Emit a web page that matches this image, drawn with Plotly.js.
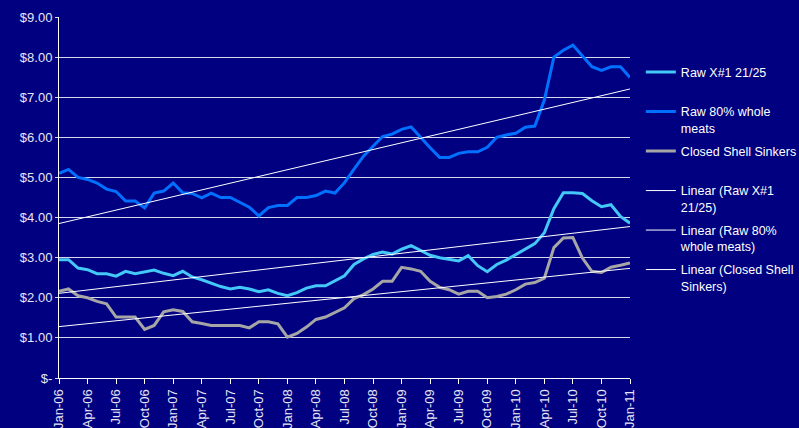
<!DOCTYPE html>
<html>
<head>
<meta charset="utf-8">
<script src="https://cdn.plot.ly/plotly-3.0.1.min.js"></script>
<style>
  html, body { margin: 0; padding: 0; background: #000080; }
  #chart { width: 799px; height: 428px; }
</style>
</head>
<body>
<div id="chart"></div>
<script>
const monthNames = ['Jan', 'Feb', 'Mar', 'Apr', 'May', 'Jun', 'Jul', 'Aug', 'Sep', 'Oct', 'Nov', 'Dec'];

// Jan-06 .. Jan-11, one point a month
const months = [];
for (let yr = 6; yr <= 11; yr++) {
    monthNames.forEach((m) => {
        if (yr < 11 || m === 'Jan') months.push(m + '-' + String(yr).padStart(2, '0'));
    });
}

const rawX1 = [
    2.95, 2.95, 2.74, 2.70, 2.60, 2.60, 2.54, 2.66, 2.60, 2.65, 2.69, 2.61,
    2.55, 2.66, 2.52, 2.45, 2.37, 2.28, 2.22, 2.26, 2.22, 2.15, 2.20, 2.11,
    2.05, 2.13, 2.24, 2.30, 2.30, 2.43, 2.55, 2.83, 2.97, 3.08, 3.14, 3.09,
    3.21, 3.30, 3.19, 3.06, 3.00, 2.96, 2.92, 3.05, 2.80, 2.65, 2.83, 2.94,
    3.08, 3.23, 3.35, 3.62, 4.22, 4.62, 4.62, 4.60, 4.42, 4.27, 4.32, 4.03,
    3.86
];

const raw80 = [
    5.10, 5.20, 5.00, 4.95, 4.86, 4.71, 4.65, 4.41, 4.41, 4.24, 4.61, 4.66,
    4.86, 4.62, 4.60, 4.49, 4.61, 4.50, 4.50, 4.39, 4.26, 4.04, 4.25, 4.30,
    4.30, 4.50, 4.50, 4.55, 4.66, 4.61, 4.87, 5.21, 5.53, 5.78, 6.02, 6.08,
    6.20, 6.26, 5.99, 5.74, 5.50, 5.50, 5.60, 5.64, 5.64, 5.75, 6.00, 6.06,
    6.10, 6.25, 6.28, 6.93, 8.00, 8.17, 8.30, 8.02, 7.76, 7.67, 7.76, 7.76,
    7.49
];

const closedShell = [
    2.16, 2.22, 2.05, 2.00, 1.91, 1.85, 1.52, 1.52, 1.52, 1.21, 1.31, 1.65,
    1.70, 1.66, 1.40, 1.36, 1.31, 1.31, 1.31, 1.31, 1.25, 1.40, 1.40, 1.35,
    1.02, 1.11, 1.27, 1.46, 1.52, 1.64, 1.75, 1.98, 2.08, 2.22, 2.41, 2.41,
    2.76, 2.72, 2.66, 2.41, 2.26, 2.20, 2.09, 2.16, 2.16, 2.00, 2.03, 2.09,
    2.20, 2.34, 2.38, 2.49, 3.25, 3.49, 3.50, 2.99, 2.66, 2.63, 2.76, 2.81,
    2.87
];

const yTickVals = [0, 1, 2, 3, 4, 5, 6, 7, 8, 9];
const yTickText = ['$-', '$1.00', '$2.00', '$3.00', '$4.00', '$5.00', '$6.00', '$7.00', '$8.00', '$9.00'];

// least squares line over the month index, like the Excel "Linear" trendline
const linearFit = (ys) => {
    const n = ys.length;
    let sx = 0, sy = 0, sxx = 0, sxy = 0;
    ys.forEach((y, i) => { sx += i; sy += y; sxx += i * i; sxy += i * y; });
    const b = (n * sxy - sx * sy) / (n * sxx - sx * sx);
    const a = (sy - b * sx) / n;
    return ys.map((_, i) => a + b * i);
};

const series = (name, y, color, width, group) => ({
    x: months,
    y,
    name,
    type: 'scatter',
    mode: 'lines',
    line: { color, width },
    legendgroup: group,
    hoverinfo: 'skip',
});

// blank second line keeps every legend entry the same height
const pad = '<br>\u00a0';

const data = [
    series('Raw X#1 21/25' + pad, rawX1, '#44C8F8', 3, 'a'),
    series('Raw 80% whole<br>meats', raw80, '#0070FF', 3, 'b'),
    series('Closed Shell Sinkers' + pad, closedShell, '#A6A6A6', 3, 'c'),
    series('Linear (Raw X#1<br>21/25)', linearFit(rawX1), '#FFFFFF', 1, 'd'),
    series('Linear (Raw 80%<br>whole meats)', linearFit(raw80), '#FFFFFF', 1, 'e'),
    series('Linear (Closed Shell<br>Sinkers)', linearFit(closedShell), '#FFFFFF', 1, 'f'),
];

const layout = {
    width: 799,
    height: 428,
    paper_bgcolor: '#000080',
    plot_bgcolor: '#000080',
    font: { family: 'Liberation Sans, Arial, sans-serif', color: '#E6E6F5' },
    margin: { l: 59, r: 169, t: 17, b: 50, pad: 0, autoexpand: false },
    showlegend: true,
    hovermode: false,
    legend: {
        x: 1.019,
        y: 0.888,
        xanchor: 'left',
        yanchor: 'top',
        bgcolor: 'rgba(0,0,0,0)',
        font: { size: 12.5, color: '#FFFFFF' },
        traceorder: 'grouped',
        tracegroupgap: 4,
        valign: 'top',
    },
    xaxis: {
        type: 'category',
        range: [0, months.length - 1],
        tickvals: months.filter((_, i) => i % 3 === 0),
        tickangle: -90,
        tickfont: { size: 13, color: '#E6E6F5' },
        ticks: 'outside',
        ticklen: 5,
        tickcolor: '#FFFFFF',
        showgrid: false,
        showline: true,
        linecolor: '#FFFFFF',
        linewidth: 1,
        zeroline: false,
        fixedrange: true,
    },
    yaxis: {
        range: [0, 9],
        tickvals: yTickVals,
        ticktext: yTickText,
        tickfont: { size: 13, color: '#E6E6F5' },
        ticks: 'outside',
        ticklen: 3,
        tickcolor: '#D8D8EC',
        showgrid: true,
        gridcolor: '#D8D8EC',
        gridwidth: 1,
        showline: true,
        linecolor: '#FFFFFF',
        linewidth: 1,
        zeroline: false,
        fixedrange: true,
    },
};

Plotly.newPlot('chart', data, layout, { displayModeBar: false, staticPlot: true });
</script>
</body>
</html>
